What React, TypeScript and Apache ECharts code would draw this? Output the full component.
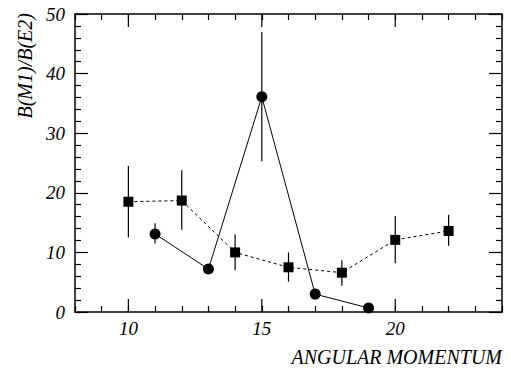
import React, { useEffect, useRef } from "react";
import * as echarts from "echarts";

const squareX = [10, 12, 14, 16, 18, 20, 22];
const squareY = [18.5, 18.7, 10.0, 7.5, 6.6, 12.1, 13.6];
const squareLow = [12.5, 13.8, 7.0, 5.1, 4.4, 8.2, 11.1];
const squareHigh = [24.5, 23.8, 13.0, 10.0, 8.7, 16.1, 16.3];

const circleX = [11, 13, 15, 17, 19];
const circleY = [13.1, 7.2, 36.1, 3.0, 0.67];
const circleLow = [11.5, 7.2, 25.3, 3.0, 0.67];
const circleHigh = [14.9, 7.2, 47.0, 3.0, 0.67];

const majorXTicks = [10, 15, 20];

const FONT = "Liberation Serif";

export default function App() {
  const ref = useRef<HTMLDivElement>(null);
  useEffect(() => {
    if (!ref.current) return;
    const chart = echarts.init(ref.current, null, { renderer: "svg" });

    const errData = [
      ...squareX.map((x, i) => [x, squareLow[i], squareHigh[i]]),
      ...circleX.map((x, i) => [x, circleLow[i], circleHigh[i]]),
    ];

    const tickStyle = { color: "#000", width: 1.2 };

    const xAxisBase = {
      type: "value",
      min: 8,
      max: 24,
      interval: 1,
      axisLine: { show: true, onZero: false, lineStyle: { color: "#000", width: 1.5 } },
      axisTick: { show: true, inside: true, length: 6, lineStyle: tickStyle },
      splitLine: { show: false },
    };
    const yAxisBase = {
      type: "value",
      min: 0,
      max: 50,
      interval: 10,
      axisLine: { show: true, onZero: false, lineStyle: { color: "#000", width: 1.5 } },
      axisTick: { show: true, inside: true, length: 13, lineStyle: tickStyle },
      minorTick: { show: true, splitNumber: 5, length: 6, lineStyle: tickStyle },
      splitLine: { show: false },
      minorSplitLine: { show: false },
    };

    chart.setOption({
      animation: false,
      backgroundColor: "#fff",
      grid: { left: 75, right: 9, top: 14, bottom: 58 },
      xAxis: [
        {
          ...xAxisBase,
          position: "bottom",
          axisLabel: {
            show: true,
            margin: 7,
            fontFamily: FONT,
            fontStyle: "italic",
            fontSize: 19,
            color: "#000",
            formatter: (v: number) => (v % 5 === 0 ? String(v) : ""),
          },
        },
        {
          ...xAxisBase,
          position: "top",
          axisLabel: { show: false },
        },
      ],
      yAxis: [
        {
          ...yAxisBase,
          position: "left",
          axisLabel: {
            show: true,
            margin: 10,
            fontFamily: FONT,
            fontStyle: "italic",
            fontSize: 19,
            color: "#000",
          },
        },
        {
          ...yAxisBase,
          position: "right",
          axisLabel: { show: false },
        },
      ],
      graphic: [
        {
          type: "text",
          x: 502,
          y: 347,
          style: {
            text: "ANGULAR MOMENTUM",
            align: "right",
            verticalAlign: "top",
            fontFamily: FONT,
            fontStyle: "italic",
            fontSize: 20,
            fill: "#000",
          },
        },
        {
          type: "text",
          x: 25,
          y: 13,
          rotation: Math.PI / 2,
          style: {
            text: "B(M1)/B(E2)",
            align: "right",
            verticalAlign: "middle",
            fontFamily: FONT,
            fontStyle: "italic",
            fontSize: 20,
            fill: "#000",
          },
        },
      ],
      series: [
        {
          type: "custom",
          name: "majorTicks",
          clip: false,
          silent: true,
          z: 5,
          data: majorXTicks.map((v) => [v]),
          renderItem: (params: any, api: any) => {
            const x = api.value(0);
            const b = api.coord([x, 0]);
            const t = api.coord([x, 50]);
            const style = { stroke: "#000", lineWidth: 1.2 };
            return {
              type: "group",
              children: [
                { type: "line", shape: { x1: b[0], y1: b[1], x2: b[0], y2: b[1] - 13 }, style },
                { type: "line", shape: { x1: t[0], y1: t[1], x2: t[0], y2: t[1] + 13 }, style },
              ],
            };
          },
        },
        {
          type: "custom",
          name: "errors",
          silent: true,
          z: 1,
          data: errData,
          renderItem: (params: any, api: any) => {
            const x = api.value(0);
            const lo = api.coord([x, api.value(1)]);
            const hi = api.coord([x, api.value(2)]);
            return {
              type: "line",
              shape: { x1: lo[0], y1: lo[1], x2: hi[0], y2: hi[1] },
              style: { stroke: "#000", lineWidth: 1.2 },
            };
          },
        },
        {
          type: "line",
          name: "squares",
          z: 3,
          data: squareX.map((x, i) => [x, squareY[i]]),
          symbol: "rect",
          symbolSize: 10,
          itemStyle: { color: "#000" },
          lineStyle: { color: "#000", width: 1, type: [3, 3] },
        },
        {
          type: "line",
          name: "circles",
          z: 3,
          data: circleX.map((x, i) => [x, circleY[i]]),
          symbol: "circle",
          symbolSize: 11,
          itemStyle: { color: "#000" },
          lineStyle: { color: "#000", width: 1 },
        },
      ],
    });
    return () => chart.dispose();
  }, []);
  return <div ref={ref} style={{ width: 511, height: 370, position: "absolute", left: 0, top: 0 }} />;
}
